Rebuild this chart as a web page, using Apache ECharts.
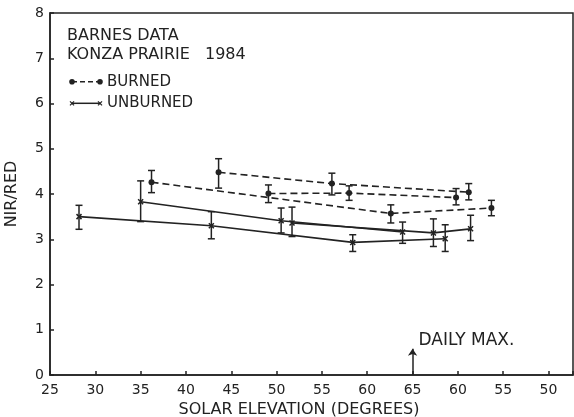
<!DOCTYPE html>
<html><head><meta charset="utf-8">
<script src="https://cdn.jsdelivr.net/npm/echarts@6/dist/echarts.min.js"></script>
<style>html,body{margin:0;padding:0;background:#fff}#c{width:574px;height:417px}</style>
</head><body><div id="c"></div>
<script>
// x position scale: 25..65 = rising solar elevation, 70/75/80 = afternoon 60/55/50
const xTickPos = [25, 30, 35, 40, 45, 50, 55, 60, 65, 70, 75, 80];
const xTickLabels = ['25', '30', '35', '40', '45', '50', '55', '60', '65', '60', '55', '50'];
const yTickLabels = ['0', '1', '2', '3', '4', '5', '6', '7', '8'];
const dailyMaxPos = 65;

// BURNED (three days)
const burned1X = [43.6, 56.1, 71.2];
const burned1Y = [4.48, 4.23, 4.04];
const burned1Lo = [4.13, 3.98, 3.87];
const burned1Hi = [4.78, 4.46, 4.23];

const burned2X = [49.1, 58.0, 69.8];
const burned2Y = [4.01, 4.02, 3.92];
const burned2Lo = [3.81, 3.86, 3.76];
const burned2Hi = [4.20, 4.18, 4.12];

const burned3X = [36.2, 62.6, 73.7];
const burned3Y = [4.26, 3.57, 3.69];
const burned3Lo = [4.03, 3.36, 3.52];
const burned3Hi = [4.52, 3.76, 3.86];

// UNBURNED (three days)
const unburned1X = [28.2, 42.8, 58.4, 68.6];
const unburned1Y = [3.50, 3.30, 2.93, 3.01];
const unburned1Lo = [3.22, 3.01, 2.73, 2.73];
const unburned1Hi = [3.75, 3.61, 3.10, 3.32];

const unburned2X = [35.0, 50.5, 63.9];
const unburned2Y = [3.83, 3.41, 3.16];
const unburned2Lo = [3.39, 3.14, 2.91];
const unburned2Hi = [4.29, 3.69, 3.38];

const unburned3X = [51.7, 67.3, 71.4];
const unburned3Y = [3.36, 3.14, 3.23];
const unburned3Lo = [3.06, 2.84, 2.97];
const unburned3Hi = [3.71, 3.45, 3.53];

const INK = '#222';
const FONT = 'DejaVu Sans';
const xMark = 'path://M0,0L10,10M10,0L0,10';

function pts(xs, ys) { return xs.map((x, i) => [x, ys[i]]); }
function errs(xs, lo, hi) { return xs.map((x, i) => [x, lo[i], hi[i]]); }

function errRender(params, api) {
  const x = api.value(0), lo = api.value(1), hi = api.value(2);
  const a = api.coord([x, lo]), b = api.coord([x, hi]);
  const w = 3.5;
  const st = { stroke: INK, lineWidth: 1.5 };
  return { type: 'group', children: [
    { type: 'line', shape: { x1: a[0], y1: a[1], x2: b[0], y2: b[1] }, style: st },
    { type: 'line', shape: { x1: a[0] - w, y1: a[1], x2: a[0] + w, y2: a[1] }, style: st },
    { type: 'line', shape: { x1: b[0] - w, y1: b[1], x2: b[0] + w, y2: b[1] }, style: st }
  ]};
}

function lineSeries(name, xs, ys, burned) {
  return {
    name: name, type: 'line', data: pts(xs, ys), silent: true, animation: false,
    symbol: burned ? 'circle' : xMark, symbolSize: burned ? 6 : 5,
    lineStyle: { color: INK, width: 1.6, type: burned ? [7, 4] : 'solid' },
    itemStyle: { color: INK, borderColor: INK, borderWidth: burned ? 0 : 1.5 },
    z: 3
  };
}
function errSeries(xs, lo, hi) {
  return {
    type: 'custom', renderItem: errRender, data: errs(xs, lo, hi), silent: true, animation: false,
    encode: { x: 0, y: [1, 2] }, z: 2
  };
}

const series = [
  lineSeries('B1', burned1X, burned1Y, true), errSeries(burned1X, burned1Lo, burned1Hi),
  lineSeries('B2', burned2X, burned2Y, true), errSeries(burned2X, burned2Lo, burned2Hi),
  lineSeries('B3', burned3X, burned3Y, true), errSeries(burned3X, burned3Lo, burned3Hi),
  lineSeries('U1', unburned1X, unburned1Y, false), errSeries(unburned1X, unburned1Lo, unburned1Hi),
  lineSeries('U2', unburned2X, unburned2Y, false), errSeries(unburned2X, unburned2Lo, unburned2Hi),
  lineSeries('U3', unburned3X, unburned3Y, false), errSeries(unburned3X, unburned3Lo, unburned3Hi),
  {
    type: 'line', data: [], silent: true, animation: false,
    markLine: {
      silent: true, animation: false, symbol: ['none', 'arrow'], symbolSize: 7,
      label: { show: false },
      lineStyle: { color: INK, width: 1.5, type: 'solid' },
      data: [[{ coord: [dailyMaxPos, 0] }, { coord: [dailyMaxPos, 0.58] }]]
    }
  }
];

const chart = echarts.init(document.getElementById('c'), null, { renderer: 'canvas' });
chart.setOption({
  backgroundColor: '#fff',
  animation: false,
  grid: { left: 50, right: 1, top: 13, bottom: 42, outerBoundsMode: 'none', containLabel: false, show: true, borderColor: INK, borderWidth: 1.5, backgroundColor: 'transparent' },
  xAxis: {
    type: 'value', min: 25, max: 82.7, interval: 5,
    name: 'SOLAR ELEVATION (DEGREES)', nameLocation: 'middle', nameGap: 26,
    nameTextStyle: { fontFamily: FONT, fontSize: 16, color: INK, padding: [0, 25, 0, 0] },
    axisLine: { lineStyle: { color: INK, width: 1.5 } },
    axisTick: { inside: true, length: 4, lineStyle: { color: INK, width: 1.5 } },
    axisLabel: {
      margin: 8, fontFamily: FONT, fontSize: 14, color: INK,
      formatter: v => { const i = xTickPos.indexOf(Math.round(v * 100) / 100); return i >= 0 ? xTickLabels[i] : ''; }
    },
    splitLine: { show: false }
  },
  yAxis: {
    type: 'value', min: 0, max: 8, interval: 1,
    name: 'NIR/RED', nameLocation: 'middle', nameGap: 30,
    nameTextStyle: { fontFamily: FONT, fontSize: 16, color: INK },
    axisLine: { show: true, lineStyle: { color: INK, width: 1.5 } },
    axisTick: { show: true, inside: true, length: 4, lineStyle: { color: INK, width: 1.5 } },
    axisLabel: { margin: 6, fontFamily: FONT, fontSize: 14, color: INK, formatter: v => yTickLabels[Math.round(v)] },
    splitLine: { show: false }
  },
  series: series
});

// annotation text and legend
const tip = chart.convertToPixel({ gridIndex: 0 }, [dailyMaxPos, 0.76]);
const txt = (t, x, y, fs) => ({ type: 'text', silent: true, style: { text: t, x: x, y: y, verticalAlign: 'middle', align: 'left', font: (fs || 15) + 'px "DejaVu Sans"', fill: INK } });
chart.setOption({
  graphic: [
    txt('BARNES DATA', 67, 35.5, 16),
    txt('KONZA PRAIRIE', 67, 55, 16),
    txt('1984', 205, 55, 16),
    txt('DAILY MAX.', tip[0] + 6, tip[1], 17),
    { type: 'line', silent: true, shape: { x1: 72, y1: 81.7, x2: 100, y2: 81.7 }, style: { stroke: INK, lineWidth: 1.5, lineDash: [5, 3] } },
    { type: 'circle', silent: true, shape: { cx: 72, cy: 81.7, r: 2.8 }, style: { fill: INK } },
    { type: 'circle', silent: true, shape: { cx: 100, cy: 81.7, r: 2.8 }, style: { fill: INK } },
    txt('BURNED', 107, 81.7),
    { type: 'line', silent: true, shape: { x1: 72, y1: 103.3, x2: 100, y2: 103.3 }, style: { stroke: INK, lineWidth: 1.5 } },
    { type: 'line', silent: true, shape: { x1: 70, y1: 101.3, x2: 74, y2: 105.3 }, style: { stroke: INK, lineWidth: 1.2 } },
    { type: 'line', silent: true, shape: { x1: 70, y1: 105.3, x2: 74, y2: 101.3 }, style: { stroke: INK, lineWidth: 1.2 } },
    { type: 'line', silent: true, shape: { x1: 98, y1: 101.3, x2: 102, y2: 105.3 }, style: { stroke: INK, lineWidth: 1.2 } },
    { type: 'line', silent: true, shape: { x1: 98, y1: 105.3, x2: 102, y2: 101.3 }, style: { stroke: INK, lineWidth: 1.2 } },
    txt('UNBURNED', 107, 103.3)
  ]
});
</script>
</body></html>
